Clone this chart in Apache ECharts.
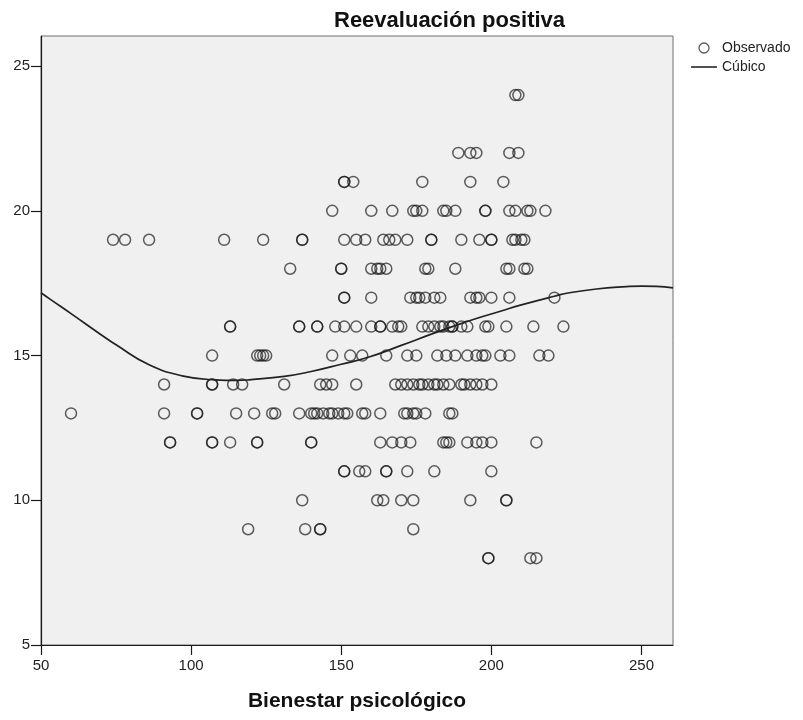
<!DOCTYPE html>
<html>
<head>
<meta charset="utf-8">
<title>Reevaluación positiva</title>
<script src="https://cdn.jsdelivr.net/npm/echarts@6/dist/echarts.min.js"></script>
<style>
  html, body { margin: 0; padding: 0; background: #ffffff; }
  #chart { width: 803px; height: 720px; }
</style>
</head>
<body>
<div id="chart"></div>
<script>
// Axis ticks
const xTicks = [50, 100, 150, 200, 250];
const yTicks = [5, 10, 15, 20, 25];

// Observed cases: one list of "Bienestar psicológico" scores per
// "Reevaluación positiva" level
const levels = [24, 22, 21, 20, 19, 18, 17, 16, 15, 14, 13, 12, 11, 10, 9, 8];
const bienestar = [
  [208, 209],
  [189, 193, 195, 206, 209],
  [151, 151, 154, 177, 193, 204],
  [147, 160, 167, 174, 175, 177, 184, 185, 188, 198, 198, 206, 208, 212, 213, 218],
  [74, 78, 86, 111, 124, 137, 137, 151, 155, 158, 164, 166, 168, 172, 180, 180, 190, 196, 200, 200, 207, 208, 210, 211],
  [133, 150, 150, 160, 162, 163, 165, 178, 179, 188, 205, 206, 211, 212],
  [151, 151, 160, 173, 175, 176, 178, 181, 183, 193, 195, 196, 200, 206, 221],
  [113, 113, 136, 136, 142, 142, 148, 151, 155, 160, 163, 163, 167, 169, 170, 177, 179, 181, 183, 184, 186, 187, 187, 190, 192, 198, 199, 205, 214, 224],
  [107, 122, 123, 124, 125, 147, 153, 157, 165, 172, 175, 182, 185, 188, 192, 195, 197, 198, 203, 206, 216, 219],
  [91, 107, 107, 114, 117, 131, 143, 145, 147, 155, 168, 170, 172, 174, 176, 177, 179, 181, 182, 184, 186, 190, 191, 193, 195, 197, 200],
  [60, 91, 102, 102, 115, 121, 127, 128, 136, 140, 141, 142, 144, 146, 147, 149, 151, 152, 157, 158, 163, 171, 172, 174, 175, 178, 186, 187],
  [93, 93, 107, 107, 113, 122, 122, 140, 140, 163, 167, 170, 173, 184, 185, 186, 192, 195, 197, 200, 215],
  [151, 151, 156, 158, 165, 165, 172, 181, 200],
  [137, 162, 164, 170, 174, 193, 205, 205],
  [119, 138, 143, 143, 174],
  [199, 199, 213, 215]
];

// Cubic fit line, sampled along the x range
const cubicX = [50, 53, 60, 70, 75, 86, 97, 108, 115, 120, 131, 140, 150, 159, 170, 180, 187, 195, 203, 210, 221, 226, 235, 245, 250, 255, 260.5];
const cubicY = [17.17, 16.95, 16.45, 15.72, 15.37, 14.68, 14.30, 14.16, 14.14, 14.17, 14.28, 14.45, 14.70, 14.94, 15.35, 15.74, 16.00, 16.28, 16.53, 16.75, 17.05, 17.17, 17.30, 17.38, 17.40, 17.39, 17.34];

const observed = [];
levels.forEach((lv, i) => {
  bienestar[i].forEach(x => observed.push([x, lv]));
});
const cubic = cubicX.map((x, i) => [x, cubicY[i]]);

const FONT = '"Liberation Sans", Arial, sans-serif';

const chart = echarts.init(document.getElementById('chart'), null, { renderer: 'canvas' });
chart.setOption({
  animation: false,
  backgroundColor: '#ffffff',
  title: {
    text: 'Reevaluación positiva',
    left: 329,
    top: 5,
    textStyle: { fontFamily: FONT, fontSize: 22, fontWeight: 'bold', color: '#111' }
  },
  legend: {
    orient: 'vertical',
    left: 686,
    top: 36,
    itemWidth: 26,
    itemHeight: 10,
    itemGap: 5,
    textStyle: { fontFamily: FONT, fontSize: 14, color: '#222' },
    data: [
      { name: 'Observado', icon: 'circle',
        itemStyle: { color: 'rgba(0,0,0,0)', borderColor: '#333', borderWidth: 1.3 } },
      { name: 'Cúbico', icon: 'path://M0,0 L26,0 L26,1.6 L0,1.6 Z',
        itemStyle: { color: '#262626', borderWidth: 0 } }
    ]
  },
  grid: {
    left: 41, right: 130, top: 36, bottom: 75,
    show: true,
    backgroundColor: '#f0f0f0',
    borderColor: '#6e6e6e',
    borderWidth: 1
  },
  xAxis: {
    type: 'value',
    min: 50,
    max: 260.5,
    name: 'Bienestar psicológico',
    nameLocation: 'middle',
    nameGap: 46,
    nameTextStyle: { fontFamily: FONT, fontSize: 21, fontWeight: 'bold', color: '#111' },
    axisLine: { show: true, onZero: false, lineStyle: { color: '#1a1a1a', width: 1.2 } },
    axisTick: { show: true, length: 10, customValues: xTicks, lineStyle: { color: '#1a1a1a', width: 1.2 } },
    axisLabel: { customValues: xTicks, fontFamily: FONT, fontSize: 15, color: '#222', margin: 13 },
    splitLine: { show: false }
  },
  yAxis: {
    type: 'value',
    min: 5,
    max: 26.04,
    axisLine: { show: true, onZero: false, lineStyle: { color: '#1a1a1a', width: 1.2 } },
    axisTick: { show: true, length: 10, customValues: yTicks, lineStyle: { color: '#1a1a1a', width: 1.2 } },
    axisLabel: { customValues: yTicks, fontFamily: FONT, fontSize: 15, color: '#222', margin: 11 },
    splitLine: { show: false }
  },
  series: [
    {
      name: 'Observado',
      type: 'scatter',
      symbol: 'circle',
      symbolSize: 11,
      data: observed,
      itemStyle: { color: 'rgba(0,0,0,0)', borderColor: 'rgba(20,20,20,0.85)', borderWidth: 1.5 },
      emphasis: { disabled: true },
      z: 3
    },
    {
      name: 'Cúbico',
      type: 'line',
      data: cubic,
      smooth: true,
      symbol: 'none',
      lineStyle: { color: '#222', width: 1.7 },
      itemStyle: { color: '#222' },
      emphasis: { disabled: true },
      z: 4
    }
  ]
});
</script>
</body>
</html>
